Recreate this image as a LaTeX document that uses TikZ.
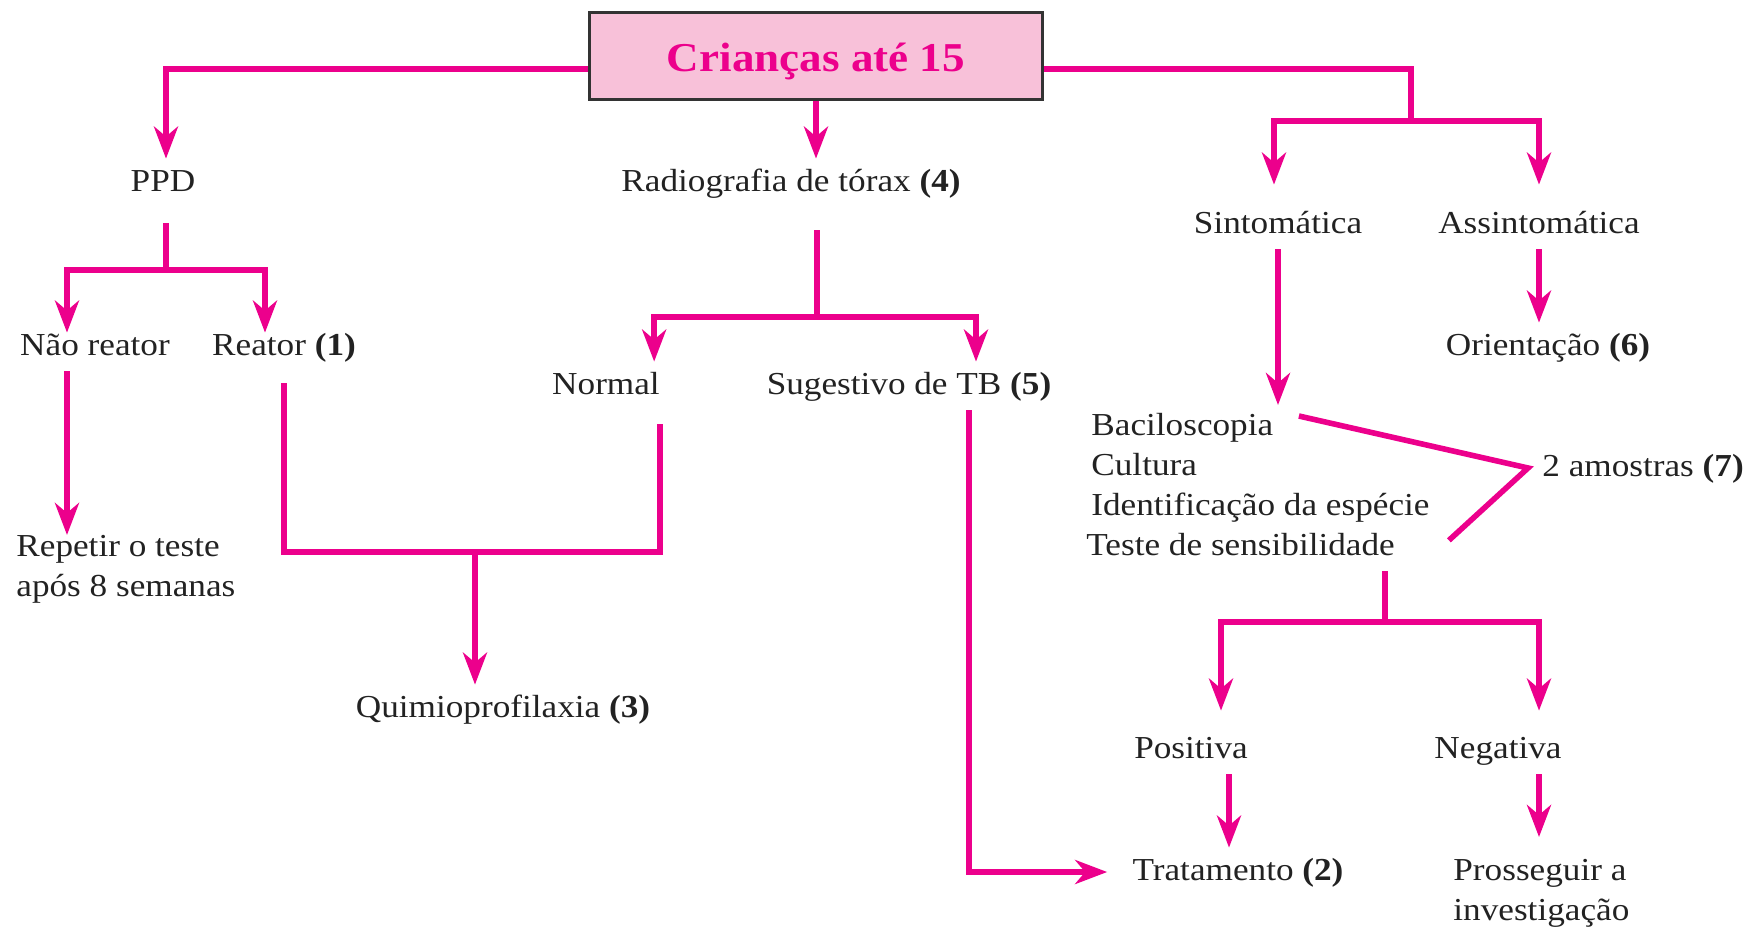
\documentclass[tikz,border=0pt]{standalone}
\usepackage{fontspec}
\setmainfont{Liberation Serif}[FakeStretch=1.1]
\usetikzlibrary{arrows.meta,positioning,calc}
\definecolor{mag}{HTML}{EC008C}
\definecolor{boxfill}{HTML}{F8C1D9}
\definecolor{boxedge}{HTML}{333333}
\definecolor{ink}{HTML}{222222}

\begin{document}
\begin{tikzpicture}[
  x=0.5pt, y=-0.5pt,
  title/.style={draw=boxedge, line width=1.5pt, fill=boxfill, minimum width=226.5pt,
                minimum height=43.5pt, text height=15.6pt, text depth=0pt, text=mag,
                font=\fontsize{20.5}{24}\selectfont\bfseries},
  lbl/.style={text=ink, inner xsep=0pt, inner ysep=5pt, text height=11pt, text depth=3pt,
              font=\fontsize{16}{20}\selectfont},
  block/.style={text=ink, inner sep=0pt, align=left, font=\fontsize{16}{20}\selectfont},
  link/.style={draw=mag, line width=2.8pt},
  ar/.style={link, -{Stealth[length=16pt, width=12pt, inset=5pt]}},
]
\useasboundingbox (0,0) rectangle (1755,927);

\node[title] (kids) at (816,56) {Crianças até 15};
\node[lbl] (ppd) at (163,183) {PPD};
\node[lbl] (rad) at (791,183) {Radiografia de tórax \textbf{(4)}};
\node[lbl] (sin) at (1278,225) {Sintomática};
\node[lbl] (asn) at (1539,225) {Assintomática};
\node[lbl] (nao) at (95,347) {Não reator};
\node[lbl] (rea) at (284,347) {Reator \textbf{(1)}};
\node[lbl] (ori) at (1548,347) {Orientação \textbf{(6)}};
\node[lbl] (nor) at (606,386) {Normal};
\node[lbl] (tb) at (909,386) {Sugestivo de TB \textbf{(5)}};
\node[block, anchor=north west] (rep) at (16,535) {Repetir o teste\\após 8 semanas};
\node[block, anchor=north west] (exams) at (1091,413) {Baciloscopia\\Cultura\\
  Identificação da espécie\\\hspace*{-2.5pt}Teste de sensibilidade};
\node[lbl, anchor=west] (am) at (1542,468) {2 amostras \textbf{(7)}};
\node[lbl] (qui) at (503,709) {Quimioprofilaxia \textbf{(3)}};
\node[lbl] (pos) at (1191,750) {Positiva};
\node[lbl] (neg) at (1498,750) {Negativa};
\node[lbl] (trat) at (1238,872) {Tratamento \textbf{(2)}};
\node[block, anchor=north west] (pro) at (1453,859) {Prosseguir a\\investigação};

% junctions
\coordinate (ppdj) at (166,270);
\coordinate (radj) at (817,317);
\coordinate (sj) at (1411,121);
\coordinate (quij) at (475,552);
\coordinate (exj) at (1385,622);

% from the title box
\draw[ar] ([yshift=-6.5pt]kids.west) -| ([xshift=1.5pt]ppd.north);
\draw[ar] (kids.south) -- (kids.south |- rad.north);
\draw[link] ([yshift=-6.5pt]kids.east) -| (sj);
\draw[ar] (sj) -| ([xshift=-2pt,yshift=8pt]sin.north);
\draw[ar] (sj) -| ([yshift=8pt]asn.north);

% PPD branch
\draw[link, shorten <=8pt] (ppdj |- ppd.south) -- (ppdj);
\draw[ar, shorten >=-5pt] (ppdj) -| ([xshift=-14pt]nao.north);
\draw[ar, shorten >=-5pt] (ppdj) -| ([xshift=-9.5pt]rea.north);
\draw[ar] ([xshift=-14pt]nao.south) -- ([xshift=-14pt]nao.south |- rep.north);
\draw[link, shorten <=6pt] (rea.south) |- (quij) -| ([yshift=-7pt]nor.south east);
\draw[ar] (quij) -- (quij |- qui.north);

% radiography branch
\draw[link, shorten <=11.5pt] (radj |- rad.south) -- (radj);
\draw[ar] (radj) -| ([xshift=-3pt]nor.north east);
\draw[ar] (radj) -| ([xshift=33.5pt]tb.north);
\draw[ar, shorten >=12.5pt] ([xshift=30pt]tb.south) |- (trat.west);

% symptomatic branch
\draw[ar, shorten >=4pt] (sin.south) -- (sin.south |- exams.north);
\draw[ar] (asn.south) -- (asn.south |- ori.north);
\draw[link] ([xshift=-65.5pt,yshift=-1.5pt]exams.north east) -- ([xshift=-7pt]am.west)
  -- ([xshift=9.5pt,yshift=8pt]exams.south east);
\draw[link, shorten <=7.5pt] (exj |- exams.south) -- (exj);
\draw[ar] (exj) -| ([xshift=15pt,yshift=7.5pt]pos.north);
\draw[ar] (exj) -| ([xshift=20.5pt,yshift=7.5pt]neg.north);
\draw[ar] ([xshift=19pt]pos.south) -- ([xshift=19pt]pos.south |- trat.north);
\draw[ar, shorten >=11pt] ([xshift=20.5pt]neg.south) -- ([xshift=20.5pt]neg.south |- pro.north);
\end{tikzpicture}
\end{document}
